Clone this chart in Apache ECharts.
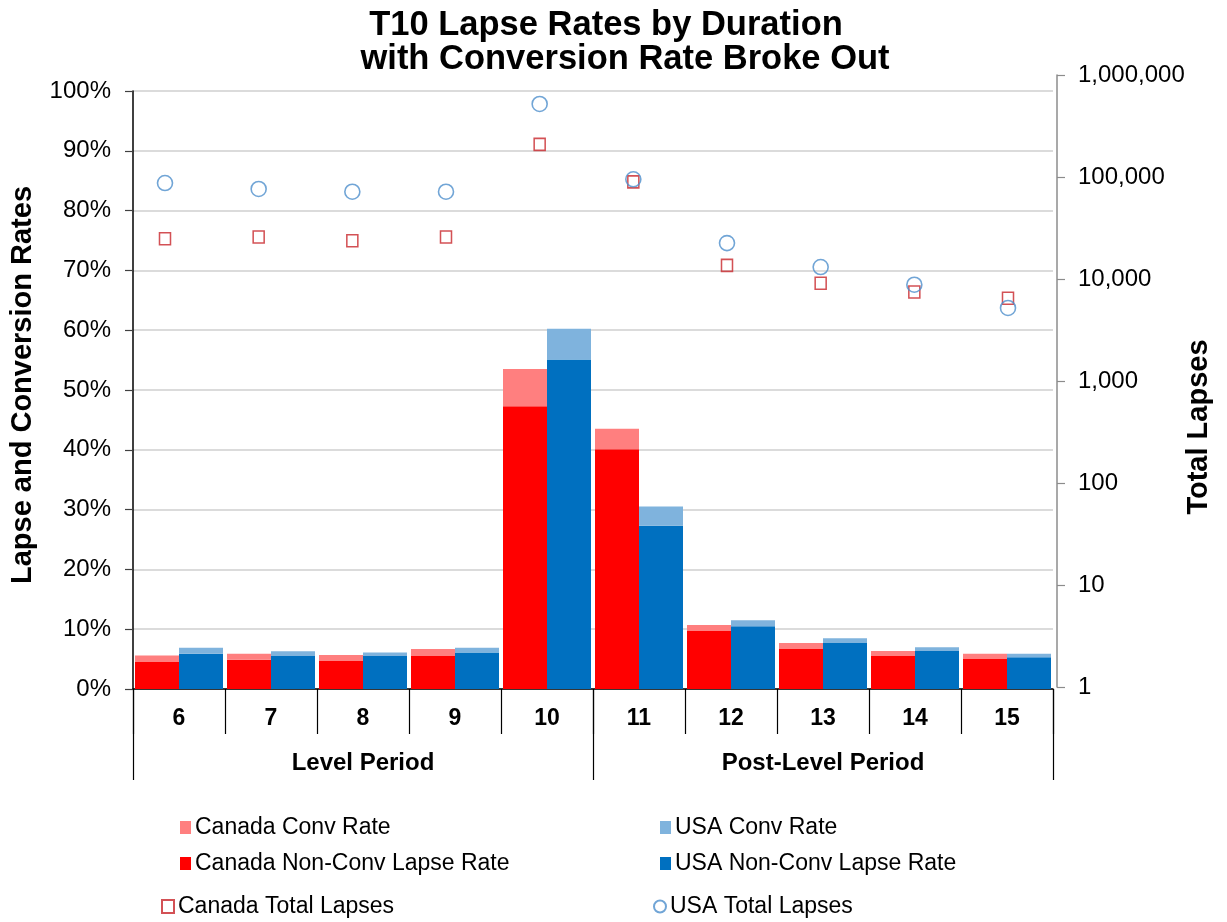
<!DOCTYPE html>
<html>
<head>
<meta charset="utf-8">
<script src="https://cdn.jsdelivr.net/npm/echarts@6/dist/echarts.min.js"></script>
<style>
html,body{margin:0;padding:0;background:#fff;}
#chart{width:1227px;height:922px;}
</style>
</head>
<body>
<div id="chart"></div>
<script>
// ---- data ----
const categories = ['6', '7', '8', '9', '10', '11', '12', '13', '14', '15'];
const groups = ['Level Period', 'Post-Level Period'];
// percentages
const canadaNonConv = [4.5, 4.9, 4.7, 5.5, 47.3, 40.1, 9.7, 6.7, 5.5, 5.1];
const canadaConv    = [1.1, 1.0, 1.0, 1.2, 6.2, 3.4, 1.0, 1.0, 0.85, 0.8];
const usaNonConv    = [5.9, 5.5, 5.5, 6.1, 55.1, 27.3, 10.5, 7.7, 6.35, 5.3];
const usaConv       = [1.0, 0.8, 0.6, 0.8, 5.15, 3.2, 1.0, 0.8, 0.65, 0.6];
// total lapses (log axis)
const canadaTotal = [24800, 25800, 23700, 25800, 209000, 89500, 13600, 9080, 7460, 6470];
const usaTotal    = [87300, 76300, 71800, 71800, 520000, 94900, 22500, 13100, 8790, 5200];

const FONT = '"Liberation Sans", Arial, sans-serif';
const durations = categories.map(Number);

const chart = echarts.init(document.getElementById('chart'), null, {renderer: 'canvas'});

function legendAt(name, left, top, w, h, icon) {
  return {
    show: true, left: left, top: top, itemWidth: w, itemHeight: h,
    icon: icon || 'rect', data: [name], selectedMode: false,
    textStyle: {fontFamily: FONT, fontSize: 23, color: '#000', padding: [0, 0, 0, -1]},
    padding: 0
  };
}

const option = {
  animation: false,
  backgroundColor: '#fff',
  textStyle: {fontFamily: FONT},
  grid: [
    {left: 133, right: 174, top: 91, bottom: 233, outerBoundsMode: 'none', containLabel: false},
    {left: 165, right: 219, top: 75, bottom: 235, outerBoundsMode: 'none', containLabel: false}
  ],
  legend: [
    legendAt('Canada Conv Rate', 180, 816, 11, 13),
    legendAt('Canada Non-Conv Lapse Rate', 180, 852, 11, 13),
    legendAt('Canada Total Lapses', 161, 895, 12, 13),
    legendAt('USA Conv Rate', 660, 816, 11, 13),
    legendAt('USA Non-Conv Lapse Rate', 660, 852, 11, 13),
    legendAt('USA Total Lapses', 653, 895, 12, 12, 'circle')
  ],
  graphic: [
    {type: 'text', x: 606, y: 25, style: {text: 'T10 Lapse Rates by Duration', font: 'bold 34.5px ' + FONT, fill: '#000', textAlign: 'center', textVerticalAlign: 'middle'}},
    {type: 'text', x: 625, y: 59, style: {text: 'with Conversion Rate Broke Out', font: 'bold 34.5px ' + FONT, fill: '#000', textAlign: 'center', textVerticalAlign: 'middle'}},
    {type: 'text', x: 23, y: 385, rotation: Math.PI / 2, style: {text: 'Lapse and Conversion Rates', font: 'bold 29px ' + FONT, fill: '#000', textAlign: 'center', textVerticalAlign: 'middle'}},
    {type: 'text', x: 1199, y: 427, rotation: Math.PI / 2, style: {text: 'Total Lapses', font: 'bold 29px ' + FONT, fill: '#000', textAlign: 'center', textVerticalAlign: 'middle'}}
  ],
  xAxis: [
    {
      type: 'category', gridIndex: 0, data: categories, position: 'bottom',
      axisLine: {show: true, lineStyle: {color: '#000', width: 1.5}},
      axisTick: {show: true, length: 45, interval: 0, lineStyle: {color: '#000', width: 1.2}},
      axisLabel: {interval: 0, margin: 17, fontSize: 23, fontWeight: 'bold', color: '#000', lineHeight: 26, fontFamily: FONT},
      splitLine: {show: false}
    },
    {
      type: 'category', gridIndex: 0, data: groups, position: 'bottom', offset: 0,
      axisLine: {show: false},
      axisTick: {show: true, length: 91, interval: 0, lineStyle: {color: '#000', width: 1.2}},
      axisLabel: {interval: 0, margin: 60, fontSize: 24, fontWeight: 'bold', color: '#000', lineHeight: 28, fontFamily: FONT},
      splitLine: {show: false}
    },
    {
      type: 'value', gridIndex: 1, min: 6, max: 15, show: false
    }
  ],
  yAxis: [
    {
      type: 'value', gridIndex: 0, min: 0, max: 100, interval: 10, position: 'left',
      axisLine: {show: true, lineStyle: {color: '#000', width: 1.5}},
      axisTick: {show: true, length: 8, lineStyle: {color: '#404040', width: 1.2}},
      axisLabel: {margin: 22, fontSize: 24, color: '#000', fontFamily: FONT, formatter: '{value}%'},
      splitLine: {show: true, lineStyle: {color: '#CFCFCF', width: 1.5}}
    },
    {
      type: 'log', gridIndex: 1, logBase: 10, min: 1, max: 1000000, position: 'right', offset: 49,
      axisLine: {show: true, lineStyle: {color: '#8C8C8C', width: 1.5}},
      axisTick: {show: true, length: 8, lineStyle: {color: '#8C8C8C', width: 1.2}},
      axisLabel: {margin: 21, fontSize: 24, color: '#000', fontFamily: FONT,
        formatter: function (v) { return Math.round(v).toLocaleString('en-US'); }},
      splitLine: {show: false}
    }
  ],
  series: [
    {name: 'Canada Non-Conv Lapse Rate', type: 'bar', stack: 'ca', xAxisIndex: 0, yAxisIndex: 0,
     data: canadaNonConv, barWidth: 44, barGap: '0%', itemStyle: {color: '#FF0000'}},
    {name: 'Canada Conv Rate', type: 'bar', stack: 'ca', xAxisIndex: 0, yAxisIndex: 0,
     data: canadaConv, barWidth: 44, barGap: '0%', itemStyle: {color: '#FF7F7F'}},
    {name: 'USA Non-Conv Lapse Rate', type: 'bar', stack: 'us', xAxisIndex: 0, yAxisIndex: 0,
     data: usaNonConv, barWidth: 44, barGap: '0%', itemStyle: {color: '#0070C0'}},
    {name: 'USA Conv Rate', type: 'bar', stack: 'us', xAxisIndex: 0, yAxisIndex: 0,
     data: usaConv, barWidth: 44, barGap: '0%', itemStyle: {color: '#7FB3DD'}},
    {name: 'Canada Total Lapses', type: 'scatter', xAxisIndex: 2, yAxisIndex: 1,
     data: durations.map((d, i) => [d, canadaTotal[i]]),
     symbol: 'rect', symbolSize: [11, 12],
     itemStyle: {color: 'rgba(255,255,255,0)', borderColor: '#C8262A', borderWidth: 1.6}, z: 5},
    {name: 'USA Total Lapses', type: 'scatter', xAxisIndex: 2, yAxisIndex: 1,
     data: durations.map((d, i) => [d, usaTotal[i]]),
     symbol: 'circle', symbolSize: 15,
     itemStyle: {color: 'rgba(255,255,255,0)', borderColor: '#4D8FCC', borderWidth: 1.6}, z: 5}
  ]
};
chart.setOption(option);
</script>
</body>
</html>
